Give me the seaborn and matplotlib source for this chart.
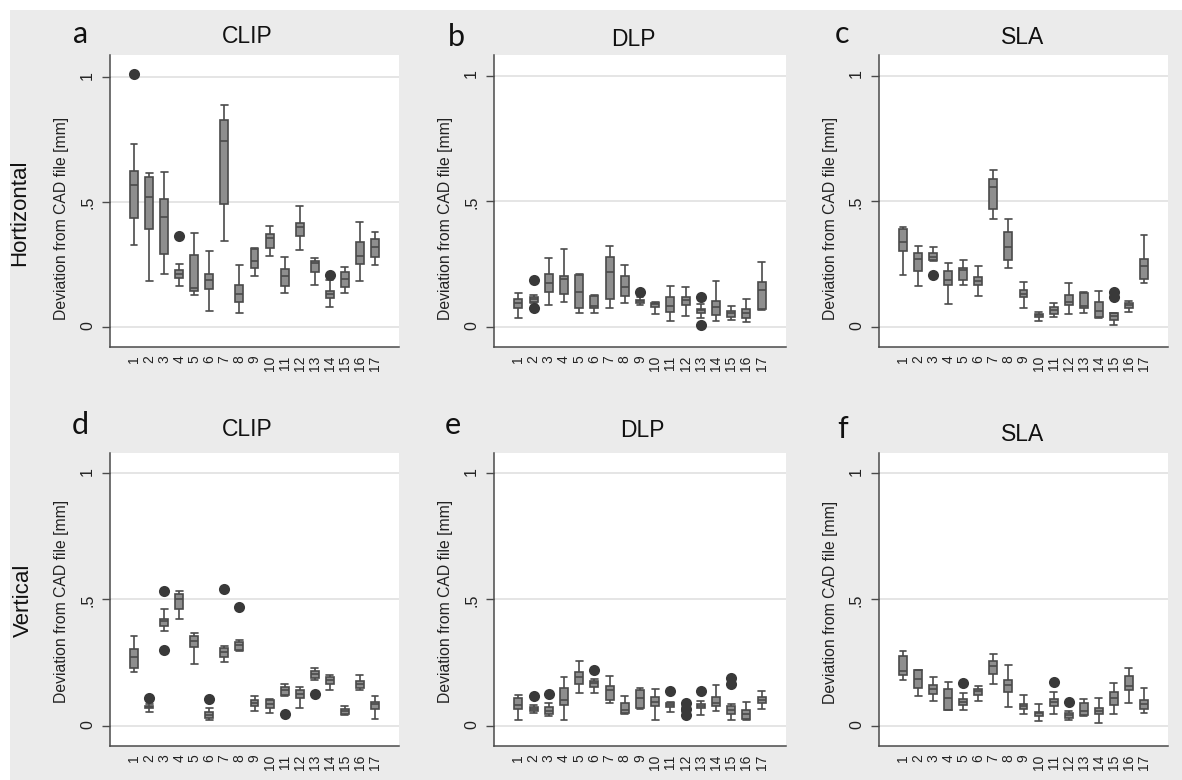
import matplotlib
matplotlib.use("Agg")
import matplotlib.pyplot as plt
from matplotlib.patches import Rectangle
import pandas as pd
import seaborn as sns

# sample numbers on the x axis
samples = [str(i) for i in range(1, 18)]

# a - CLIP, horizontal
a_lo = [0.328, 0.186, 0.211, 0.163, 0.128, 0.063, 0.346, 0.057, 0.205, 0.286, 0.136, 0.307, 0.170, 0.079, 0.138, 0.186, 0.247]
a_q1 = [0.436, 0.393, 0.291, 0.198, 0.146, 0.151, 0.492, 0.102, 0.237, 0.318, 0.166, 0.366, 0.221, 0.115, 0.160, 0.251, 0.281]
a_med = [0.567, 0.519, 0.441, 0.214, 0.156, 0.190, 0.743, 0.134, 0.266, 0.356, 0.203, 0.400, 0.255, 0.131, 0.193, 0.286, 0.320]
a_q3 = [0.623, 0.599, 0.511, 0.230, 0.287, 0.214, 0.829, 0.168, 0.313, 0.373, 0.234, 0.417, 0.265, 0.144, 0.219, 0.340, 0.352]
a_hi = [0.733, 0.615, 0.620, 0.251, 0.378, 0.305, 0.890, 0.249, 0.317, 0.406, 0.282, 0.483, 0.277, 0.190, 0.241, 0.421, 0.382]
a_out_x = [1, 4, 14]
a_out_y = [1.011, 0.366, 0.207]

# b - DLP, horizontal
b_lo = [0.036, 0.095, 0.086, 0.098, 0.057, 0.057, 0.074, 0.096, 0.087, 0.053, 0.022, 0.042, 0.036, 0.022, 0.029, 0.020, 0.069]
b_q1 = [0.074, 0.100, 0.139, 0.131, 0.077, 0.074, 0.111, 0.124, 0.096, 0.080, 0.058, 0.088, 0.057, 0.049, 0.038, 0.037, 0.071]
b_med = [0.094, 0.110, 0.175, 0.190, 0.137, 0.084, 0.220, 0.158, 0.103, 0.091, 0.084, 0.106, 0.066, 0.078, 0.054, 0.054, 0.148]
b_q3 = [0.112, 0.120, 0.211, 0.203, 0.208, 0.124, 0.277, 0.203, 0.108, 0.096, 0.119, 0.117, 0.073, 0.102, 0.063, 0.070, 0.179]
b_hi = [0.133, 0.128, 0.273, 0.311, 0.211, 0.127, 0.323, 0.245, 0.117, 0.100, 0.162, 0.158, 0.092, 0.181, 0.082, 0.112, 0.260]
b_out_x = [2, 2, 9, 13, 13]
b_out_y = [0.187, 0.076, 0.140, 0.120, 0.009]

# c - SLA, horizontal
c_lo = [0.206, 0.161, 0.264, 0.090, 0.165, 0.124, 0.430, 0.234, 0.074, 0.022, 0.040, 0.050, 0.054, 0.036, 0.008, 0.059, 0.174]
c_q1 = [0.301, 0.224, 0.268, 0.166, 0.187, 0.165, 0.471, 0.266, 0.117, 0.038, 0.053, 0.088, 0.074, 0.040, 0.026, 0.075, 0.191]
c_med = [0.339, 0.270, 0.280, 0.187, 0.227, 0.183, 0.557, 0.319, 0.132, 0.047, 0.066, 0.100, 0.084, 0.062, 0.042, 0.087, 0.244]
c_q3 = [0.388, 0.296, 0.293, 0.223, 0.235, 0.198, 0.588, 0.379, 0.145, 0.053, 0.079, 0.125, 0.135, 0.098, 0.054, 0.094, 0.269]
c_hi = [0.397, 0.321, 0.317, 0.255, 0.265, 0.244, 0.625, 0.431, 0.177, 0.058, 0.095, 0.175, 0.140, 0.144, 0.055, 0.104, 0.365]
c_out_x = [3, 15, 15]
c_out_y = [0.207, 0.138, 0.120]

# d - CLIP, vertical
d_lo = [0.213, 0.053, 0.375, 0.424, 0.244, 0.021, 0.252, 0.296, 0.057, 0.050, 0.119, 0.070, 0.180, 0.143, 0.042, 0.143, 0.028]
d_q1 = [0.230, 0.069, 0.395, 0.460, 0.310, 0.030, 0.272, 0.301, 0.079, 0.070, 0.123, 0.111, 0.190, 0.166, 0.048, 0.149, 0.065]
d_med = [0.272, 0.075, 0.413, 0.502, 0.336, 0.042, 0.293, 0.318, 0.090, 0.087, 0.140, 0.124, 0.205, 0.182, 0.058, 0.166, 0.085]
d_q3 = [0.303, 0.080, 0.424, 0.522, 0.357, 0.053, 0.306, 0.333, 0.100, 0.100, 0.152, 0.140, 0.215, 0.193, 0.067, 0.176, 0.096]
d_hi = [0.354, 0.088, 0.461, 0.534, 0.367, 0.071, 0.314, 0.341, 0.118, 0.107, 0.165, 0.155, 0.227, 0.199, 0.079, 0.199, 0.118]
d_out_x = [2, 3, 3, 6, 7, 8, 11, 13]
d_out_y = [0.108, 0.532, 0.301, 0.106, 0.543, 0.470, 0.045, 0.124]

# e - DLP, vertical
e_lo = [0.021, 0.050, 0.040, 0.022, 0.129, 0.129, 0.089, 0.048, 0.065, 0.024, 0.055, 0.055, 0.042, 0.058, 0.022, 0.021, 0.065]
e_q1 = [0.066, 0.058, 0.046, 0.082, 0.165, 0.155, 0.103, 0.050, 0.070, 0.077, 0.074, 0.060, 0.070, 0.077, 0.046, 0.026, 0.090]
e_med = [0.081, 0.067, 0.058, 0.103, 0.193, 0.170, 0.143, 0.061, 0.111, 0.094, 0.083, 0.066, 0.078, 0.090, 0.063, 0.048, 0.103]
e_q3 = [0.111, 0.074, 0.074, 0.149, 0.211, 0.177, 0.157, 0.091, 0.143, 0.112, 0.090, 0.072, 0.087, 0.114, 0.079, 0.061, 0.114]
e_hi = [0.123, 0.081, 0.091, 0.194, 0.255, 0.184, 0.197, 0.118, 0.148, 0.145, 0.096, 0.078, 0.098, 0.162, 0.085, 0.096, 0.136]
e_out_x = [2, 3, 6, 11, 12, 12, 12, 13, 15, 15]
e_out_y = [0.118, 0.127, 0.221, 0.137, 0.092, 0.068, 0.041, 0.136, 0.190, 0.166]

# f - SLA, vertical
f_lo = [0.182, 0.118, 0.099, 0.061, 0.061, 0.099, 0.165, 0.075, 0.045, 0.018, 0.048, 0.021, 0.037, 0.011, 0.048, 0.091, 0.052]
f_q1 = [0.201, 0.151, 0.125, 0.061, 0.081, 0.123, 0.205, 0.135, 0.065, 0.037, 0.079, 0.032, 0.041, 0.045, 0.082, 0.141, 0.067]
f_med = [0.215, 0.185, 0.145, 0.111, 0.094, 0.136, 0.235, 0.160, 0.077, 0.049, 0.094, 0.041, 0.058, 0.057, 0.108, 0.157, 0.086]
f_q3 = [0.275, 0.221, 0.161, 0.144, 0.104, 0.147, 0.255, 0.182, 0.087, 0.054, 0.106, 0.050, 0.090, 0.070, 0.132, 0.198, 0.100]
f_hi = [0.295, 0.222, 0.192, 0.173, 0.128, 0.156, 0.284, 0.239, 0.122, 0.086, 0.132, 0.057, 0.107, 0.111, 0.169, 0.230, 0.149]
f_out_x = [5, 11, 12]
f_out_y = [0.169, 0.174, 0.094]

BOX_FILL = "#8e8e8e"
EDGE = "#4a4a4a"
DOT = "#393939"
GRID = "#e3e3e3"

sns.set_theme(style="white")
plt.rcParams["font.family"] = ["Liberation Sans", "DejaVu Sans"]

W, H = 1182, 780
fig = plt.figure(figsize=(W / 100, H / 100), dpi=100, facecolor="white")
fig.patches.append(Rectangle((10 / W, 0), 1 - 10 / W, 1 - 10 / H, transform=fig.transFigure,
                             facecolor="#ebebeb", edgecolor="none", zorder=-10))


def five_points(lo, q1, med, q3, hi):
    # five values per sample give exact quartiles; whiskers go to min / max
    rows = []
    for s, vals in zip(samples, zip(lo, q1, med, q3, hi)):
        for v in vals:
            rows.append({"sample": s, "value": v})
    return pd.DataFrame(rows)


def draw_panel(ax, stats, out_x, out_y, ytop, label_y):
    df = five_points(*stats)
    sns.boxplot(data=df, x="sample", y="value", order=samples, whis=(0, 100),
                width=0.53, color=BOX_FILL, saturation=1, linecolor=EDGE,
                linewidth=1.2, fliersize=0, capwidths=0.45, ax=ax)
    outs = pd.DataFrame({"sample": [str(i) for i in out_x], "value": out_y})
    sns.stripplot(data=outs, x="sample", y="value", order=samples, jitter=False,
                  color=DOT, size=8, linewidth=0, ax=ax, zorder=3)
    ax.set_xlim(-1.6, 17.6)
    ax.set_ylim(-0.08, ytop)
    ax.set_yticks([0, 0.5, 1], ["0", ".5", "1"])
    ax.set_xlabel("")
    ax.set_ylabel("Deviation from CAD file [mm]", fontsize=11.3, color="#222222")
    ax.yaxis.set_label_coords(-0.142, label_y)
    ax.set_facecolor("white")
    ax.yaxis.grid(True, color=GRID, linewidth=1.3)
    ax.xaxis.grid(False)
    ax.set_axisbelow(True)
    for side in ["top", "right"]:
        ax.spines[side].set_visible(False)
    for side in ["left", "bottom"]:
        ax.spines[side].set_color(EDGE)
        ax.spines[side].set_linewidth(1.1)
    ax.tick_params(axis="x", length=0, pad=6, labelsize=10, labelrotation=90, colors="#222222")
    ax.tick_params(axis="y", length=5.8, width=1, color=EDGE, pad=5, labelsize=11.5,
                   labelrotation=90, labelcolor="#222222", left=True)


def px_axes(left, top, width, height):
    return fig.add_axes([left / W, 1 - (top + height) / H, width / W, height / H])


panels = [
    ((a_lo, a_q1, a_med, a_q3, a_hi), a_out_x, a_out_y, (110, 55, 289, 292), 1.088, 0.44,
     "a", (73, 43), "CLIP", (247, 43)),
    ((b_lo, b_q1, b_med, b_q3, b_hi), b_out_x, b_out_y, (494, 55, 292, 292), 1.082, 0.44,
     "b", (448, 46), "DLP", (633, 46)),
    ((c_lo, c_q1, c_med, c_q3, c_hi), c_out_x, c_out_y, (879, 55, 289, 292), 1.082, 0.44,
     "c", (835, 43), "SLA", (1023, 44)),
    ((d_lo, d_q1, d_med, d_q3, d_hi), d_out_x, d_out_y, (110, 453, 289, 293), 1.079, 0.495,
     "d", (72, 434), "CLIP", (247, 436)),
    ((e_lo, e_q1, e_med, e_q3, e_hi), e_out_x, e_out_y, (494, 453, 292, 293), 1.079, 0.495,
     "e", (445, 434), "DLP", (642, 437)),
    ((f_lo, f_q1, f_med, f_q3, f_hi), f_out_x, f_out_y, (879, 453, 289, 293), 1.079, 0.49,
     "f", (837, 438), "SLA", (1023, 441)),
]

for stats, ox, oy, box, ytop, label_y, letter, lpos, title, tpos in panels:
    ax = px_axes(*box)
    draw_panel(ax, stats, ox, oy, ytop, label_y)
    fig.text(lpos[0] / W, 1 - lpos[1] / H, letter, ha="left", va="baseline",
             fontsize=22, family=["Lato", "DejaVu Sans"], color="#111111")
    fig.text(tpos[0] / W, 1 - tpos[1] / H, title, ha="center", va="baseline",
             fontsize=16.5, color="#111111")

fig.text(19.5 / W, 1 - 213 / H, "Hortizontal", rotation=90, ha="center", va="center",
         fontsize=16, color="#111111")
fig.text(23.5 / W, 1 - 600 / H, "Vertical", rotation=90, ha="center", va="center",
         fontsize=16, color="#111111")

fig.savefig("out.png", dpi=100, facecolor=fig.get_facecolor())
